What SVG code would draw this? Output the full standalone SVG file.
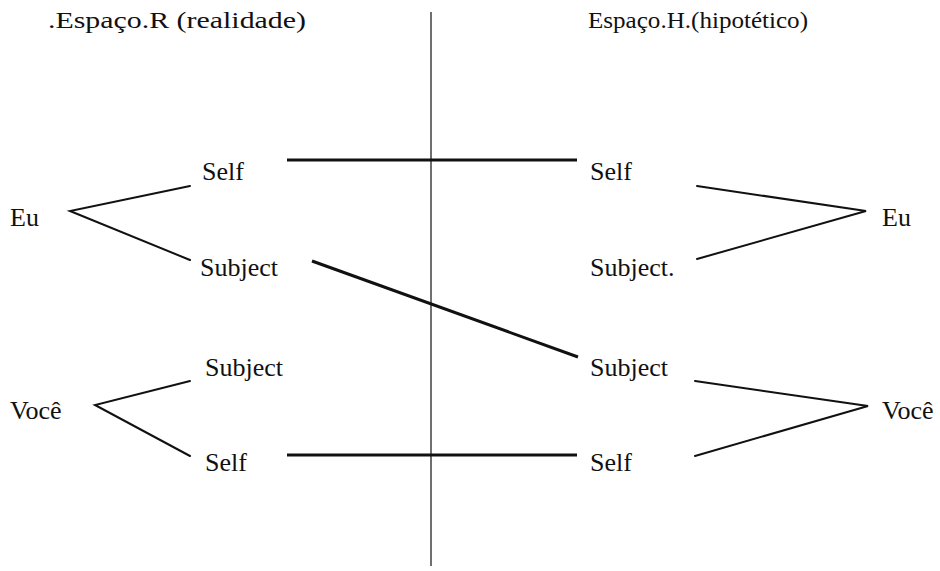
<svg xmlns="http://www.w3.org/2000/svg" width="940" height="571" viewBox="0 0 940 571">
<style>
text{font-family:'Liberation Serif','DejaVu Serif',serif;fill:#111;}
.n{font-size:26px;}
.t{font-size:24px;}
.thin{stroke:#111;stroke-width:2;fill:none;stroke-linecap:round;}
.thick{stroke:#111;stroke-width:3;fill:none;}
.axis{stroke:#222;stroke-width:1.3;fill:none;}
</style>
<rect width="940" height="571" fill="#fff"/>
<g id="titles" font-family="Liberation Serif, DejaVu Serif, serif">
<text class="t" x="48" y="28" textLength="258" lengthAdjust="spacingAndGlyphs">.Espaço.R (realidade)</text>
<text class="t" x="588" y="28" textLength="220" lengthAdjust="spacingAndGlyphs">Espaço.H.(hipotético)</text>
</g>
<g id="connectors">
<line class="axis" x1="431" y1="12" x2="431" y2="566"/>
<polyline class="thin" points="190,186 70,211 190,260"/>
<polyline class="thin" points="190,381 95,405 190,456"/>
<line class="thick" x1="287" y1="160" x2="577" y2="160"/>
<line class="thick" x1="287" y1="455" x2="577" y2="455"/>
<line class="thick" x1="312" y1="261" x2="578" y2="357"/>
<polyline class="thin" points="697,186 866,211 697,259"/>
<polyline class="thin" points="695,381 868,406 695,456"/>
</g>
<g font-family="Liberation Serif, DejaVu Serif, serif">
<g id="eu-l"><text class="n" x="10" y="226">Eu</text></g>
<g id="self-l1"><text class="n" x="202" y="180">Self</text></g>
<g id="subject-l1"><text class="n" x="200" y="276">Subject</text></g>
<g id="voce-l"><text class="n" x="10" y="419">Você</text></g>
<g id="subject-l2"><text class="n" x="205" y="376">Subject</text></g>
<g id="self-l2"><text class="n" x="205" y="471">Self</text></g>
<g id="self-r1"><text class="n" x="590" y="180">Self</text></g>
<g id="subject-r1"><text class="n" x="590" y="276">Subject.</text></g>
<g id="eu-r"><text class="n" x="882" y="226">Eu</text></g>
<g id="subject-r2"><text class="n" x="590" y="376">Subject</text></g>
<g id="voce-r"><text class="n" x="882" y="419">Você</text></g>
<g id="self-r2"><text class="n" x="590" y="471">Self</text></g>
</g>
</svg>
